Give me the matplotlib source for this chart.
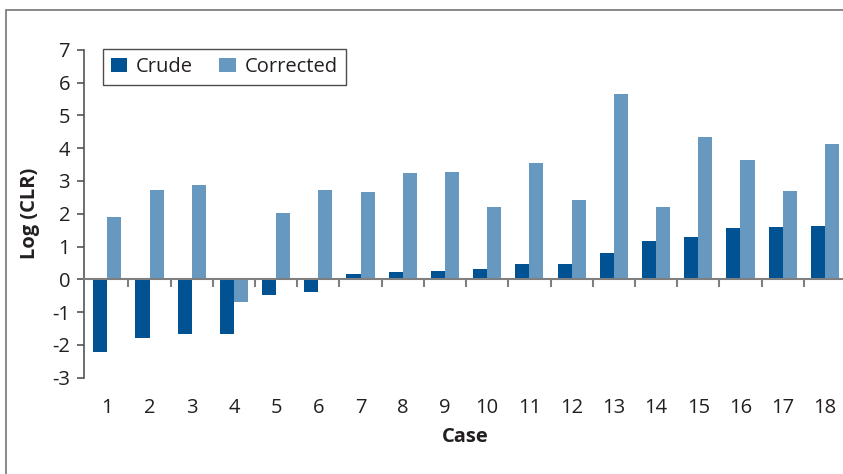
"""
Crude vs corrected log(CLR) per case, grouped bar chart.
Writes out.png (843x474).
"""

import numpy as np
import matplotlib.pyplot as plt
from matplotlib.patches import Rectangle


# ---------------------- data ---------------------- #

cases = list(range(1, 19))
crude = [-2.22, -1.78, -1.68, -1.68, -0.48, -0.38, 0.17, 0.21, 0.24,
         0.30, 0.48, 0.48, 0.79, 1.18, 1.30, 1.58, 1.61, 1.64]
corrected = [1.89, 2.72, 2.87, -0.70, 2.01, 2.72, 2.66, 3.25, 3.29,
             2.22, 3.54, 2.41, 5.65, 2.22, 4.33, 3.63, 2.68, 4.12]
y_ticks = [-3, -2, -1, 0, 1, 2, 3, 4, 5, 6, 7]

CRUDE_COLOR = "#005293"
CORR_COLOR = "#6798c0"
AXIS_GRAY = "#7f7f7f"
TEXT = "#231f20"

plt.rcParams["font.family"] = ["Open Sans", "DejaVu Sans"]

W, H = 843, 474
fig = plt.figure(figsize=(W / 100, H / 100), dpi=100)

# outer gray frame (only left and top edges visible in the original)
fig.patches.append(Rectangle((6 / W, -0.1), 1.2, (H - 10) / H + 0.1,
                             transform=fig.transFigure, fill=False,
                             edgecolor="#808080", linewidth=1.3))

# axes placed in pixel terms: left spine x=84, y=7 at 50px, y=-3 at 377.5px
ax = fig.add_axes([84 / W, (H - 377.5) / H, (846 - 84) / W, (377.5 - 50) / H])

x = np.array(cases, dtype=float)
bw = 1 / 3
ax.bar(x - bw / 2, crude, width=bw, color=CRUDE_COLOR, label="Crude", zorder=2)
ax.bar(x + bw / 2, corrected, width=bw, color=CORR_COLOR, label="Corrected", zorder=2)

ax.set_xlim(0.448, 18.5)
ax.set_ylim(-3, 7)
ax.set_yticks(y_ticks)
ax.set_yticklabels([str(v) for v in y_ticks])

for side in ("top", "right"):
    ax.spines[side].set_visible(False)
ax.spines["left"].set_color("#555555")
ax.spines["left"].set_linewidth(1.2)
ax.spines["bottom"].set_position(("data", 0))
ax.spines["bottom"].set_color(AXIS_GRAY)
ax.spines["bottom"].set_linewidth(1.5)
ax.spines["bottom"].set_zorder(3)

ax.tick_params(axis="y", length=5, width=1.2, color="#555555",
               labelsize=14.5, pad=5, labelcolor=TEXT)

# boundary ticks on the zero line, no labels
ax.set_xticks(x + 0.5, minor=True)
ax.set_xticks([])
ax.tick_params(axis="x", which="minor", length=6, width=1.5,
               color=AXIS_GRAY, direction="out")

# case numbers live at the bottom of the axes
sec = ax.secondary_xaxis(0.0)
sec.set_xticks(cases)
sec.set_xticklabels([str(c) for c in cases])
sec.tick_params(length=0, labelsize=14.5, pad=15, labelcolor=TEXT)
sec.spines["bottom"].set_visible(False)
sec.set_xlabel("Case", fontsize=14.5, fontweight="bold", labelpad=6,
               color=TEXT)

ax.set_ylabel("Log (CLR)", fontsize=14.5, fontweight="bold", labelpad=9,
              color=TEXT)

leg = ax.legend(loc="upper left", bbox_to_anchor=(19 / 762, 1.003), ncol=2,
                frameon=True, fancybox=False, fontsize=14.5,
                handlelength=0.8, handleheight=0.75, handletextpad=0.45,
                columnspacing=1.3, borderpad=0.4, borderaxespad=0)
leg.get_frame().set_edgecolor(TEXT)
leg.get_frame().set_linewidth(1.0)
for t in leg.get_texts():
    t.set_color(TEXT)

fig.savefig("out.png", dpi=100)
